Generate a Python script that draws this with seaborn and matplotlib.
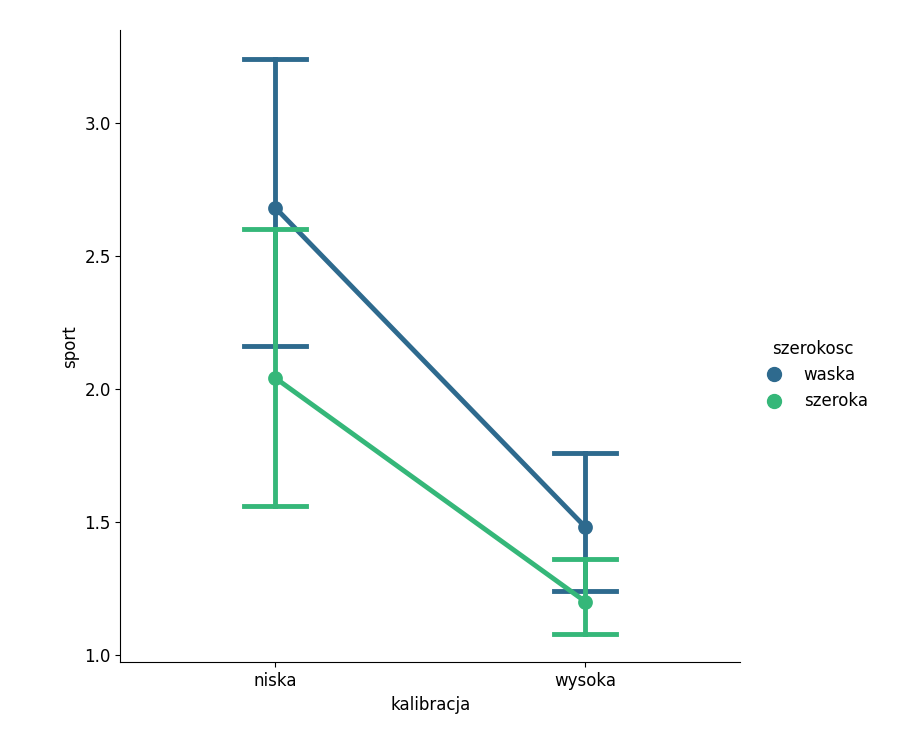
import numpy as np
import pandas as pd
import seaborn as sns
import matplotlib
matplotlib.use("Agg")
import matplotlib.pyplot as plt
from matplotlib.lines import Line2D

kalibracja = ["niska", "wysoka"]
szerokosc = ["waska", "szeroka"]
# [lower CI, mean, upper CI] per (kalibracja, szerokosc)
waska_vals = [[2.16, 2.68, 3.24], [1.24, 1.48, 1.76]]
szeroka_vals = [[1.56, 2.04, 2.60], [1.08, 1.20, 1.36]]
colors = ["#2e6a8e", "#35b779"]

plt.rcParams["font.size"] = 12

rows = []
for i, k in enumerate(kalibracja):
    for v in waska_vals[i]:
        rows.append(dict(kalibracja=k, szerokosc="waska", sport=v))
    for v in szeroka_vals[i]:
        rows.append(dict(kalibracja=k, szerokosc="szeroka", sport=v))
df = pd.DataFrame(rows)

g = sns.catplot(data=df, x="kalibracja", y="sport", hue="szerokosc", kind="point",
                order=kalibracja, hue_order=szerokosc, palette=colors,
                estimator=np.median, errorbar=lambda x: (np.min(x), np.max(x)),
                capsize=0.2, height=6, aspect=1, linewidth=3.5, markersize=8,
                legend=False)
g.fig.set_size_inches(9.05, 7.5)
g.fig.subplots_adjust(left=0.133, right=0.818, top=0.96, bottom=0.117)
ax = g.ax
ax.set_yticks([1.0, 1.5, 2.0, 2.5, 3.0])
ax.tick_params(labelsize=12)
ax.set_xlabel("kalibracja", fontsize=12)
ax.set_ylabel("sport", fontsize=12)
handles = [Line2D([], [], marker="o", linestyle="", color=c, markersize=10) for c in colors]
g.fig.legend(handles, szerokosc, title="szerokosc", loc="center left",
             bbox_to_anchor=(0.82, 0.5), frameon=False, fontsize=12, title_fontsize=12)
g.fig.savefig("out.png", dpi=100)
